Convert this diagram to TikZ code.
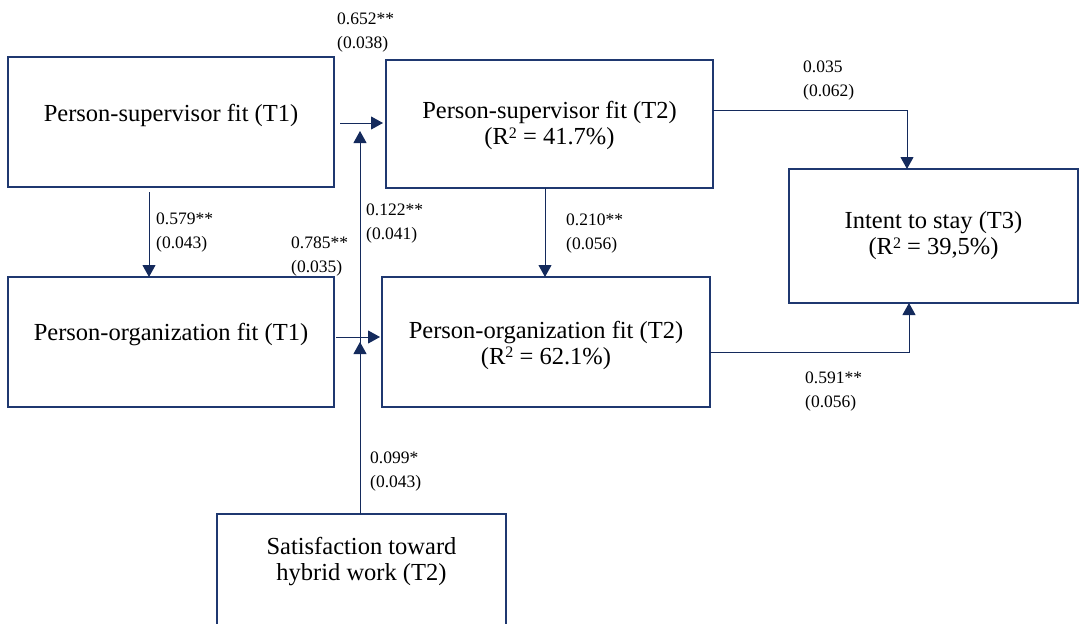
\documentclass[tikz,border=0pt]{standalone}
\usepackage{fontspec}
\setmainfont{Liberation Serif}
\usetikzlibrary{arrows.meta}
\definecolor{boxc}{RGB}{31,56,112}
\definecolor{arrc}{RGB}{20,42,92}
\newcommand{\rsq}{R\raisebox{6.5pt}{\fontsize{16}{16}\selectfont 2}}
\begin{document}
\begin{tikzpicture}[x=1pt,y=-1pt,
  box/.style={draw=boxc,line width=1.3pt,inner sep=0pt,fill=none},
  boxtext/.style={inner sep=0pt,align=center,font=\fontsize{24.5}{26}\selectfont},
  lab/.style={inner sep=0pt,anchor=north west,align=left,font=\fontsize{17.5}{24}\selectfont},
  arr/.style={draw=arrc,line width=1pt,-{Triangle[length=12pt,width=13pt]}},
  ln/.style={draw=arrc,line width=1pt}]
\useasboundingbox (0,0) rectangle (1080,624);
% boxes
\node[box,minimum width=326pt,minimum height=130pt] (A) at (171,122) {};
\node[box,minimum width=326pt,minimum height=130pt] (B) at (171,342) {};
\node[box,minimum width=327pt,minimum height=128pt] (C) at (549.5,124) {};
\node[box,minimum width=328pt,minimum height=130pt] (D) at (546,342) {};
\node[box,minimum width=289pt,minimum height=134pt] (E) at (933.5,236) {};
\node[box,minimum width=289pt,minimum height=136pt] (F) at (361.5,582) {};
% box texts
\node[boxtext] (tA) at (171,115) {Person-supervisor fit (T1)};
\node[boxtext] (tB) at (171,335) {Person-organization fit (T1)};
\node[boxtext] (tC) at (549.5,125.5) {Person-supervisor fit (T2)\\(\rsq{} = 41.7\%)};
\node[boxtext] (tD) at (546,345) {Person-organization fit (T2)\\(\rsq{} = 62.1\%)};
\node[boxtext] (tE) at (933.5,236) {Intent to stay (T3)\\(\rsq{} = 39,5\%)};
\node[boxtext] (tF) at (361.5,562) {Satisfaction toward\\hybrid work (T2)};
% coordinates
\coordinate (a1) at (149,192);
\coordinate (a2) at (149,277);
\coordinate (s1) at (340,123);
\coordinate (s2) at (383,123);
\coordinate (t1) at (336,337);
\coordinate (t2) at (380,337);
\coordinate (f0) at (360,514);
\coordinate (f1) at (360,131);
\coordinate (f2) at (360,342);
\coordinate (c1) at (545,188);
\coordinate (c2) at (545,277);
\coordinate (ce0) at (713,110);
\coordinate (ce1) at (907,169);
\coordinate (de0) at (710,352);
\coordinate (de1) at (909,303);
% connectors
\draw[arr] (a1) -- (a2);
\draw[arr] (s1) -- (s2);
\draw[arr] (t1) -- (t2);
\draw[arr] (f0) -- (f1);
\draw[arr] (f0) -- (f2);
\draw[arr] (c1) -- (c2);
\draw[arr] (ce0) -| (ce1);
\draw[arr] (de0) -| (de1);
% labels
\node[lab] (l1) at (337,13) {0.652**\\(0.038)};
\node[lab] (l2) at (156,213) {0.579**\\(0.043)};
\node[lab] (l3) at (291,237) {0.785**\\(0.035)};
\node[lab] (l4) at (366,204) {0.122**\\(0.041)};
\node[lab] (l5) at (566,214) {0.210**\\(0.056)};
\node[lab] (l6) at (803,61) {0.035\\(0.062)};
\node[lab] (l7) at (805,372) {0.591**\\(0.056)};
\node[lab] (l8) at (370,452) {0.099*\\(0.043)};
\end{tikzpicture}
\end{document}
